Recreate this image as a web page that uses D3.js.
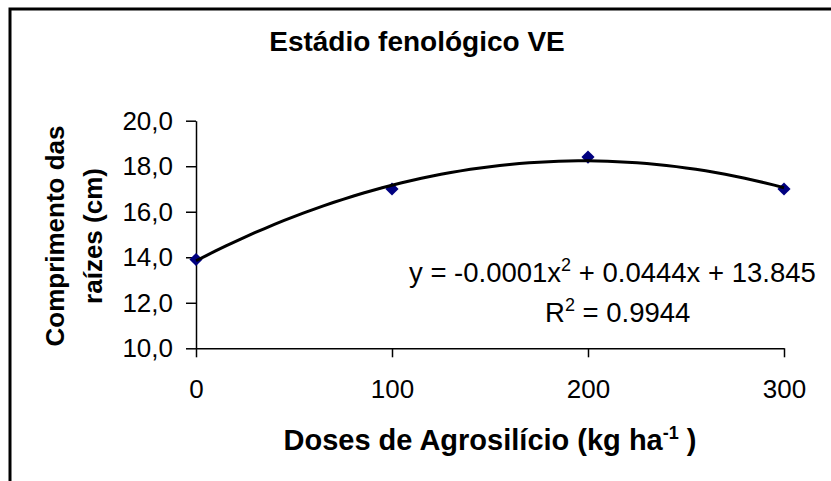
<!DOCTYPE html>
<html>
<head>
<meta charset="utf-8">
<script src="https://cdn.jsdelivr.net/npm/d3@7"></script>
<style>
  body { margin: 0; background: #fff; }
  svg { display: block; font-family: "Liberation Sans", Arial, sans-serif; }
  .axis path, .axis line { stroke: #000; stroke-width: 1.5; }
  .axis text { font-size: 26px; fill: #000; font-family: "Liberation Sans", Arial, sans-serif; }
</style>
</head>
<body>
<div id="chart"></div>
<script>
// doses of Agrosilício (kg/ha)
var doses = [0, 100, 200, 300];
// root length (cm) at each dose
var comprimento = [13.9, 17.0, 18.4, 17.0];
// tick values
var xTicks = [0, 100, 200, 300];
var yTicks = [10, 12, 14, 16, 18, 20];
// texts
var chartTitle = "Estádio fenológico VE";
var yTitleLines = ["Comprimento das", "raízes (cm)"];
var equationText = ["y = -0.0001x", "2", " + 0.0444x + 13.845"];
var r2Text = ["R", "2", " = 0.9944"];

var width = 831;
var height = 481;

var svg = d3.select("#chart").append("svg")
    .attr("width", width)
    .attr("height", height);

// outer chart border (right and bottom sides run off the picture)
svg.append("rect")
    .attr("x", 10)
    .attr("y", 9)
    .attr("width", 1000)
    .attr("height", 1000)
    .attr("fill", "none")
    .attr("stroke", "#000")
    .attr("stroke-width", 3);

var xScale = d3.scaleLinear()
    .domain([0, 300])
    .range([196, 784]);

var yScale = d3.scaleLinear()
    .domain([10, 20])
    .range([348.3, 120.7]);

// portuguese number format, comma as decimal sign
var ptLocale = d3.formatLocale({decimal: ",", thousands: ".", grouping: [3], currency: ["R$", ""]});
var yFormat = ptLocale.format(".1f");

var xAxis = d3.axisBottom(xScale)
    .tickValues(xTicks)
    .tickSize(9)
    .tickSizeOuter(0)
    .tickPadding(22)
    .tickFormat(d3.format("d"));

var yAxis = d3.axisLeft(yScale)
    .tickValues(yTicks)
    .tickSize(10)
    .tickSizeOuter(0)
    .tickPadding(13)
    .tickFormat(yFormat);

svg.append("g")
    .attr("class", "axis x-axis")
    .attr("transform", "translate(0," + yScale(10) + ")")
    .call(xAxis);

svg.append("g")
    .attr("class", "axis y-axis")
    .attr("transform", "translate(" + xScale(0) + ",0)")
    .call(yAxis);

// least squares quadratic fit (like the excel trendline)
function polyFit2(xs, ys) {
	var s = [0, 0, 0, 0, 0];
	var t = [0, 0, 0];
	for (var i = 0; i < xs.length; i++) {
		var u = xs[i] / 100;
		for (var k = 0; k < 5; k++) s[k] += Math.pow(u, k);
		for (var k = 0; k < 3; k++) t[k] += ys[i] * Math.pow(u, k);
	}
	var m = [
		[s[0], s[1], s[2], t[0]],
		[s[1], s[2], s[3], t[1]],
		[s[2], s[3], s[4], t[2]]
	];
	// gaussian elimination
	for (var c = 0; c < 3; c++) {
		for (var r = c + 1; r < 3; r++) {
			var f = m[r][c] / m[c][c];
			for (var k = c; k < 4; k++) m[r][k] -= f * m[c][k];
		}
	}
	var coef = [0, 0, 0];
	for (var r = 2; r >= 0; r--) {
		var v = m[r][3];
		for (var k = r + 1; k < 3; k++) v -= m[r][k] * coef[k];
		coef[r] = v / m[r][r];
	}
	return function(x) {
		var u = x / 100;
		return coef[0] + coef[1] * u + coef[2] * u * u;
	};
}

var fit = polyFit2(doses, comprimento);
var trendX = d3.range(0, 300.001, 5);

var line = d3.line()
    .x(function(d) { return xScale(d); })
    .y(function(d) { return yScale(fit(d)); });

// data markers (navy diamonds)
svg.selectAll(".marker")
    .data(doses)
    .enter()
    .append("path")
    .attr("class", "marker")
    .attr("d", d3.symbol().type(d3.symbolDiamond2).size(110))
    .attr("transform", function(d, i) {
    	return "translate(" + xScale(d) + "," + yScale(comprimento[i]) + ")";
    })
    .attr("fill", "#000080");

svg.append("path")
    .datum(trendX)
    .attr("d", line)
    .attr("fill", "none")
    .attr("stroke", "#000")
    .attr("stroke-width", 3);

// title
svg.append("text")
    .attr("x", 417)
    .attr("y", 51)
    .attr("text-anchor", "middle")
    .attr("font-size", 28)
    .attr("font-weight", "bold")
    .text(chartTitle);

// y axis title, two rotated lines
svg.selectAll(".ytitle")
    .data(yTitleLines)
    .enter()
    .append("text")
    .attr("class", "ytitle")
    .attr("transform", function(d, i) {
    	return "translate(" + (55 + i * 38) + ",236) rotate(-90)";
    })
    .attr("text-anchor", "middle")
    .attr("dominant-baseline", "central")
    .attr("font-size", 26)
    .attr("font-weight", "bold")
    .text(function(d) { return d; });

// x axis title with superscript
var xTitle = svg.append("text")
    .attr("x", 490)
    .attr("y", 450)
    .attr("text-anchor", "middle")
    .attr("font-size", 29)
    .attr("font-weight", "bold");
xTitle.append("tspan").text("Doses de Agrosilício (kg ha");
xTitle.append("tspan").attr("dy", -11).attr("font-size", 18).text("-1");
xTitle.append("tspan").attr("dy", 11).text(" )");

// trendline equation and r squared
function supText(parts, x, y) {
	var t = svg.append("text")
	    .attr("x", x)
	    .attr("y", y)
	    .attr("font-size", 27.5);
	t.append("tspan").text(parts[0]);
	t.append("tspan").attr("dy", -11).attr("font-size", 18).text(parts[1]);
	t.append("tspan").attr("dy", 11).text(parts[2]);
}
supText(equationText, 409, 282);
supText(r2Text, 545, 322);
</script>
</body>
</html>
